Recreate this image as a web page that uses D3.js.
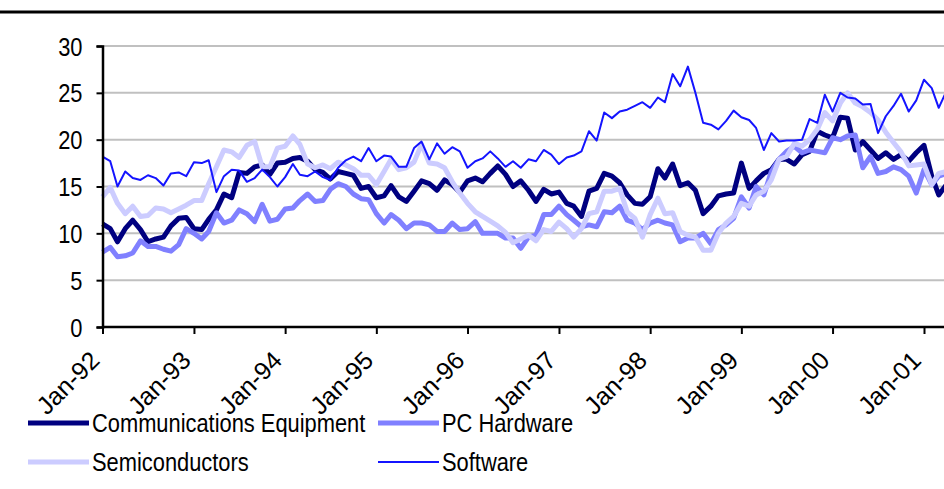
<!DOCTYPE html>
<html>
<head>
<meta charset="utf-8">
<script src="https://cdn.jsdelivr.net/npm/d3@7"></script>
<style>
  body { margin: 0; background: #fff; }
  svg text { font-family: "Liberation Sans", Arial, sans-serif; fill: #000; }
</style>
</head>
<body>
<div id="chart"></div>
<script>
// monthly values, Jan-92 .. Apr-01
var startMonth = new Date(1992, 0, 1);

var commEquipment = [11.0,10.5,9.1,10.5,11.4,10.4,9.1,9.4,9.6,10.8,11.6,11.7,
  10.5,10.4,11.5,12.5,14.2,13.8,16.5,16.4,17.1,17.3,16.3,17.5,
  17.6,18.0,18.1,17.7,16.8,16.5,15.8,16.6,16.4,16.2,14.8,15.0,
  13.8,14.0,15.1,13.9,13.4,14.5,15.6,15.3,14.6,15.7,15.2,14.4,
  15.6,15.9,15.5,16.4,17.2,16.3,15.0,15.6,14.6,13.4,14.7,14.2,
  14.4,13.2,12.9,11.8,14.5,14.8,16.4,16.1,15.4,14.1,13.2,13.1,
  13.9,16.9,15.9,17.4,15.1,15.4,14.6,12.1,12.9,14.0,14.2,14.3,
  17.5,14.8,15.6,16.4,16.8,17.9,17.9,17.4,18.4,18.75,20.9,20.5,
  20.2,22.4,22.3,18.9,19.8,18.9,18.0,18.6,17.9,18.4,17.7,18.6,
  19.4,16.1,14.1,15.2];

var pcHardware = [8.0,8.5,7.5,7.6,7.9,9.2,8.6,8.6,8.3,8.1,8.8,10.5,
  10.0,9.4,10.2,12.2,11.1,11.4,12.5,12.1,11.25,13.1,11.3,11.5,
  12.6,12.7,13.5,14.2,13.4,13.5,14.7,15.3,15.0,14.2,13.7,13.6,
  12.1,11.1,12.0,11.4,10.5,11.1,11.1,10.9,10.2,10.2,11.1,10.4,
  10.5,11.25,10.0,10.0,10.0,9.5,9.5,8.4,9.6,9.8,12.0,12.0,
  12.9,12.0,11.4,10.7,10.9,10.7,12.3,12.2,12.9,11.4,11.1,10.4,
  11.1,11.4,11.1,10.9,9.1,9.5,9.5,10.0,8.9,10.4,10.9,11.6,
  13.9,12.7,15.0,14.1,16.6,17.9,18.75,19.3,18.6,18.9,18.75,18.6,
  20.2,20.0,20.4,20.5,17.0,18.2,16.4,16.6,17.1,16.8,16.1,14.3,
  16.8,15.2,16.1,16.4];

var semiconductors = [13.9,14.9,13.2,12.1,12.9,11.8,11.9,12.7,12.6,12.2,12.6,13.0,
  13.5,13.5,15.3,17.1,18.9,18.7,18.1,19.4,19.8,17.1,17.1,19.1,
  19.3,20.4,19.5,17.4,17.0,17.3,16.9,17.6,17.3,16.9,16.2,16.2,
  15.2,16.6,17.9,16.8,17.0,17.6,19.5,17.5,17.4,17.0,15.5,14.3,
  13.2,12.3,11.8,11.3,10.8,10.1,9.0,9.4,9.8,9.2,10.4,10.2,
  11.2,10.5,9.6,10.5,12.1,12.3,14.5,14.5,14.8,12.3,11.6,9.6,
  12.0,13.75,12.1,12.2,10.2,9.8,9.6,8.2,8.2,10.0,11.1,11.8,
  13.2,12.9,14.1,14.5,15.7,17.9,18.2,19.6,19.3,20.0,21.1,22.9,
  22.0,23.9,25.0,23.9,23.5,22.9,22.1,20.8,19.7,18.7,17.2,17.3,
  17.4,15.2,16.4,16.6];

var software = [18.2,17.7,15.0,16.6,15.9,15.7,16.2,15.9,15.1,16.4,16.5,16.1,
  17.6,17.5,17.8,14.4,16.1,16.8,16.7,15.5,15.9,16.8,16.0,15.0,
  16.0,17.4,16.25,16.1,16.6,16.0,15.7,17.0,17.8,18.2,17.7,19.1,
  17.7,18.3,18.2,17.1,17.1,19.1,19.8,17.9,19.6,18.5,19.2,18.75,
  17.0,17.7,18.0,18.75,18.0,17.1,17.7,17.0,17.9,17.7,18.9,18.4,
  17.4,18.1,18.3,18.75,20.9,19.9,22.9,22.3,23.0,23.2,23.6,24.0,
  23.4,24.5,24.0,27.0,25.7,27.8,25.0,21.8,21.6,21.1,22.0,23.1,
  22.4,22.1,21.25,18.9,20.7,19.8,19.9,19.9,20.0,22.2,21.8,24.8,
  23.0,25.0,24.5,24.4,23.75,23.8,20.7,22.5,23.6,24.9,23.0,24.2,
  26.4,25.5,23.4,25.2];

var seriesNames = ["Communications Equipment", "PC Hardware", "Semiconductors", "Software"];
var seriesValues = [commEquipment, pcHardware, semiconductors, software];
var yTicks = [0, 5, 10, 15, 20, 25, 30];
var xTickYears = [1992, 1993, 1994, 1995, 1996, 1997, 1998, 1999, 2000, 2001];

var colors = ["#000080", "#8080ff", "#ccccff", "#1414ff"];
var widths = [5, 5, 5, 2];

var width = 944, height = 489;
var narrow = "scale(0.875,1)";   // the original font is drawn a bit condensed

var svg = d3.select("#chart").append("svg")
    .attr("width", width)
    .attr("height", height);

var x = d3.scaleTime()
    .domain([new Date(1992, 0, 1), new Date(2001, 0, 1)])
    .range([102.5, 924]);

var y = d3.scaleLinear()
    .domain([0, 30])
    .range([327, 46]);

// top rule
svg.append("line")
    .attr("x1", 0).attr("x2", width)
    .attr("y1", 12).attr("y2", 12)
    .attr("stroke", "#000")
    .attr("stroke-width", 3);

// gridlines
svg.append("g")
    .selectAll("line")
    .data(yTicks.filter(d => d > 0))
    .enter().append("line")
    .attr("x1", x.range()[0]).attr("x2", width)
    .attr("y1", d => y(d)).attr("y2", d => y(d))
    .attr("stroke", "#c0c0c0")
    .attr("stroke-width", 2);

// lines
var line = d3.line()
    .x((d, i) => x(d3.timeMonth.offset(startMonth, i)))
    .y(d => y(d));

svg.append("g")
    .selectAll("path")
    .data(seriesValues)
    .enter().append("path")
    .attr("d", line)
    .attr("fill", "none")
    .attr("stroke", (d, i) => colors[i])
    .attr("stroke-width", (d, i) => widths[i])
    .attr("stroke-linejoin", "round");

// y axis
var yAxis = svg.append("g")
    .attr("transform", "translate(" + x.range()[0] + ",0)")
    .call(d3.axisLeft(y).tickValues(yTicks).tickSize(6).tickFormat(d3.format("d")));
yAxis.select(".domain").attr("stroke", "#000").attr("stroke-width", 2.5);
yAxis.selectAll(".tick line").attr("stroke", "#000").attr("stroke-width", 2);
yAxis.selectAll("text")
    .style("font-size", "25px")
    .attr("x", 0)
    .attr("dy", "0.36em")
    .attr("transform", "translate(-20,0) " + narrow);

// x axis
var xAxis = svg.append("g")
    .attr("transform", "translate(0," + y(0) + ")")
    .call(d3.axisBottom(x)
        .tickValues(xTickYears.map(yr => new Date(yr, 0, 1)))
        .tickSize(7)
        .tickFormat(d3.timeFormat("%b-%y")));
xAxis.select(".domain")
    .attr("d", "M" + x.range()[0] + ",0H" + width)
    .attr("stroke", "#000").attr("stroke-width", 2.5);
xAxis.selectAll(".tick line").attr("stroke", "#000").attr("stroke-width", 2);
xAxis.selectAll("text")
    .style("font-size", "25px")
    .attr("text-anchor", "end")
    .attr("y", 0)
    .attr("dy", 0)
    .attr("transform", "translate(-2,35) rotate(-45)");

// legend
var legendPos = [[28, 423], [378, 423], [28, 462], [378, 462]];
var legend = svg.append("g")
    .selectAll("g")
    .data(seriesNames)
    .enter().append("g")
    .attr("transform", (d, i) => "translate(" + legendPos[i][0] + "," + legendPos[i][1] + ")");

legend.append("line")
    .attr("x1", 0).attr("x2", 61)
    .attr("y1", 0).attr("y2", 0)
    .attr("stroke", (d, i) => colors[i])
    .attr("stroke-width", (d, i) => widths[i]);

legend.append("text")
    .attr("transform", "translate(64,0) " + narrow)
    .attr("dy", "0.36em")
    .style("font-size", "25px")
    .text(d => d);
</script>
</body>
</html>
